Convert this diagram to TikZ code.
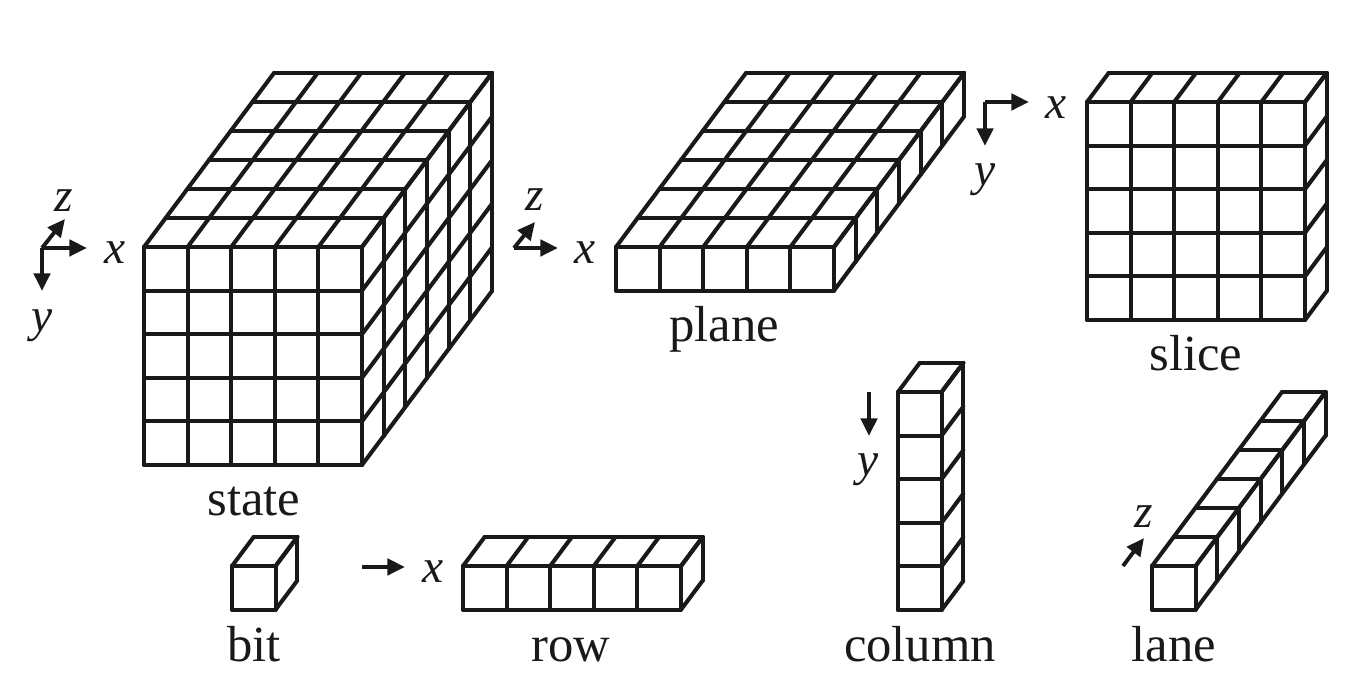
\documentclass[tikz,border=0pt]{standalone}
\usepackage{fontspec}
\setmainfont{Liberation Serif}
\usetikzlibrary{arrows.meta}

\tikzset{
  cellline/.style={line width=1.15pt, line cap=round, line join=round, black!90},
  axisline/.style={line width=1.1pt, black!90, -{Triangle[length=5pt,width=4.6pt]}},
  caption/.style={font=\fontsize{14.4}{16}\selectfont, text=black!90, inner sep=0pt, anchor=base},
  axislabel/.style={font=\fontsize{13.5}{16}\selectfont\itshape, text=black!90, inner sep=0pt, anchor=base},
}

% x, y of the front top left corner, then cells along x, y, z
\newcommand{\gridbox}[5]{
  \def\cw{43.6}
  \def\dx{21.67}
  \def\dy{-29}
  \foreach \i in {0,...,#3} {
    \draw[cellline] (#1+\i*\cw,#2) -- (#1+\i*\cw,#2+#4*\cw);
    \draw[cellline] (#1+\i*\cw,#2) -- (#1+\i*\cw+#5*\dx,#2+#5*\dy);
  }
  \foreach \j in {0,...,#4} {
    \draw[cellline] (#1,#2+\j*\cw) -- (#1+#3*\cw,#2+\j*\cw);
    \draw[cellline] (#1+#3*\cw,#2+\j*\cw) -- (#1+#3*\cw+#5*\dx,#2+\j*\cw+#5*\dy);
  }
  \foreach \k in {1,...,#5} {
    \draw[cellline] (#1+\k*\dx,#2+\k*\dy) -- (#1+\k*\dx+#3*\cw,#2+\k*\dy);
    \draw[cellline] (#1+#3*\cw+\k*\dx,#2+\k*\dy) -- (#1+#3*\cw+\k*\dx,#2+\k*\dy+#4*\cw);
  }
}

\begin{document}
\begin{tikzpicture}[x=0.01cm, y=-0.01cm]

\useasboundingbox (0,0) rectangle (1363,683);

\gridbox{144}{247}{5}{5}{6}
\gridbox{616}{247}{5}{1}{6}
\gridbox{1087}{102}{5}{5}{1}
\gridbox{898}{392}{1}{5}{1}
\gridbox{1152}{566}{1}{1}{6}
\gridbox{232}{566}{1}{1}{1}
\gridbox{463}{566}{5}{1}{1}

\node[caption] (state) at (254,516) {state};
\node[caption] (plane) at (724,342) {plane};
\node[caption] (slice) at (1196,371) {slice};
\node[caption] (bit) at (254,662) {bit};
\node[caption] (row) at (571,662) {row};
\node[caption] (column) at (920,662) {column};
\node[caption] (lane) at (1174,662) {lane};

% axes beside the state
\coordinate (oa) at (42,248);
\coordinate (oax) at (87,248);
\coordinate (oay) at (42,291);
\coordinate (oaz) at (65,219);
\draw[axisline] (oa) -- (oax);
\draw[axisline] (oa) -- (oay);
\draw[axisline] (oa) -- (oaz);
\node[axislabel] (xa) at (115,264) {x};
\node[axislabel] (ya) at (42,332) {y};
\node[axislabel] (za) at (64,212) {z};

% axes beside the plane
\coordinate (ob) at (514,248);
\coordinate (obx) at (558,248);
\coordinate (obz) at (535,222);
\draw[axisline] (ob) -- (obx);
\draw[axisline] (ob) -- (obz);
\node[axislabel] (xb) at (585,264) {x};
\node[axislabel] (zb) at (535,211) {z};

% axes beside the slice
\coordinate (oc) at (985,102);
\coordinate (ocx) at (1029,102);
\coordinate (ocy) at (985,146);
\draw[axisline] (oc) -- (ocx);
\draw[axisline] (oc) -- (ocy);
\node[axislabel] (xc) at (1056,119) {x};
\node[axislabel] (yc) at (985,186) {y};

% single arrows
\coordinate (rowa) at (362,567);
\coordinate (rowb) at (405,567);
\draw[axisline] (rowa) -- (rowb);
\node[axislabel] (xd) at (433,583) {x};

\coordinate (cola) at (869,392);
\coordinate (colb) at (869,436);
\draw[axisline] (cola) -- (colb);
\node[axislabel] (yd) at (868,476) {y};

\coordinate (lanea) at (1123,566);
\coordinate (laneb) at (1144,538);
\draw[axisline] (lanea) -- (laneb);
\node[axislabel] (zd) at (1144,528) {z};

\end{tikzpicture}
\end{document}
